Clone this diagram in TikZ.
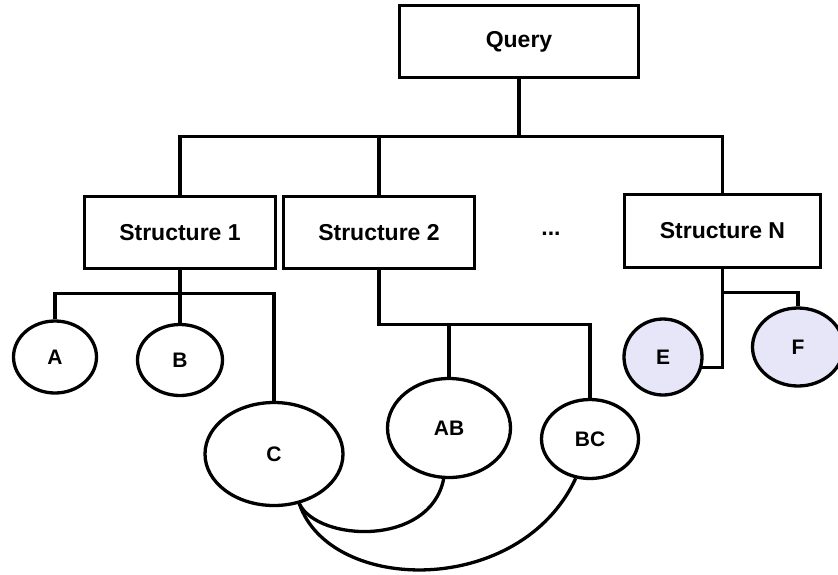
\documentclass[tikz,border=0pt]{standalone}
\usepackage{fontspec}
\setmainfont{Liberation Sans}
\usetikzlibrary{shapes.geometric}
\definecolor{lavender}{RGB}{230,230,248}
\begin{document}
\begin{tikzpicture}[x=1pt,y=-1pt,line width=3.3pt,
  blk/.style={draw,rectangle,inner sep=0pt,font=\fontsize{23}{27}\selectfont\bfseries},
  elem/.style={draw,ellipse,inner sep=0pt,font=\fontsize{21}{25}\selectfont\bfseries},
  hit/.style={elem,fill=lavender}]
\useasboundingbox (0,0) rectangle (838,574);

\node[blk,minimum width=239pt,minimum height=72pt] (query) at (519,41.5) {Query};
\node[blk,minimum width=191pt,minimum height=72pt] (s1) at (180,232.5) {Structure 1};
\node[blk,minimum width=191pt,minimum height=72pt] (s2) at (379,232.5) {Structure 2};
\node[font=\fontsize{23}{27}\selectfont\bfseries] (dots) at (551,234) {...};
\node[blk,minimum width=196pt,minimum height=73pt] (sn) at (722.5,231) {Structure N};

\node[elem,minimum width=83pt,minimum height=72pt] (a) at (55,357) {A};
\node[elem,minimum width=85pt,minimum height=71pt] (b) at (180,360) {B};
\node[elem,minimum width=138pt,minimum height=103pt] (c) at (274,454) {C};
\node[elem,minimum width=123pt,minimum height=99pt] (ab) at (449,428) {AB};
\node[elem,minimum width=97pt,minimum height=79pt] (bc) at (590,439) {BC};
\node[hit,minimum width=78pt,minimum height=76pt] (e) at (663,357) {E};
\node[hit,minimum width=91pt,minimum height=78pt] (f) at (798,347) {F};

\draw (query.south) -- ++(0,57) coordinate (qj);
\draw (s1.north) |- (qj) -| (sn.north);
\draw (s2.north) -- (s2.north |- qj);

\draw (s1.south) -- ++(0,23) coordinate (s1j);
\draw (a.north) |- (s1j) -| (c.north);
\draw (s1j) -- (b.north);

\draw (s2.south) -- ++(0,54) coordinate (s2j) -| (bc.north);
\draw (ab.north) -- (ab.north |- s2j);

\draw (sn.south) -- ++(0,23) coordinate (snj) -| (f.north);
\draw (snj) |- (e.-15);

\draw (c.-63) .. controls (318,542) and (430,547) .. (ab.-96);
\draw (c.-63) .. controls (330,594) and (520,598) .. (bc.-110);
\end{tikzpicture}
\end{document}
